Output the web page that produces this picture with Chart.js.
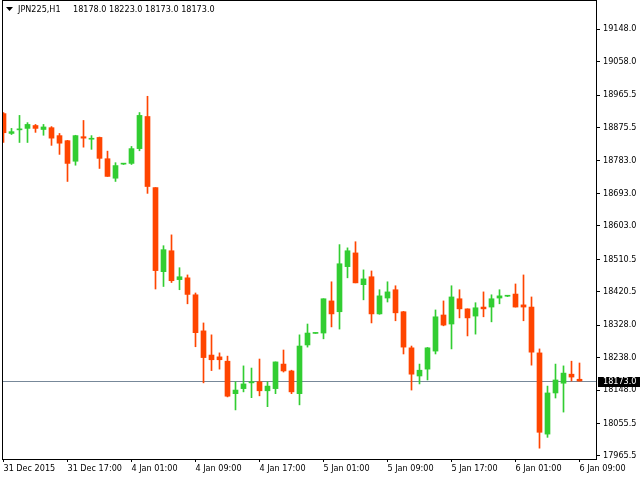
<!DOCTYPE html>
<html>
<head>
<meta charset="utf-8">
<script src="https://cdn.jsdelivr.net/npm/chart.js@4.4.1/dist/chart.umd.min.js"></script>
<style>
  html, body { margin: 0; padding: 0; background: #ffffff; }
  canvas { display: block; }
</style>
</head>
<body>
<canvas id="chart" width="640" height="480"></canvas>
<script>
const symbol = "JPN225,H1";
const bidPrice = 18173.0;

// one label every 8 hourly bars
const timeLabels = ["31 Dec 2015", "31 Dec 17:00", "4 Jan 01:00", "4 Jan 09:00", "4 Jan 17:00",
    "5 Jan 01:00", "5 Jan 09:00", "5 Jan 17:00", "6 Jan 01:00", "6 Jan 09:00"];

const priceTicks = [19148.0, 19058.0, 18965.5, 18875.5, 18783.0, 18693.0, 18603.0, 18510.5,
    18420.5, 18328.0, 18238.0, 18148.0, 18055.5, 17965.5];

const opens = [18914, 18859, 18869, 18873, 18881, 18870, 18875, 18853, 18839, 18782,
    18850, 18843, 18848, 18789, 18735, 18774, 18776, 18817, 18906, 18709,
    18476, 18534, 18454, 18459, 18412, 18312, 18245, 18240, 18228, 18138,
    18152, 18168, 18171, 18146, 18152, 18220, 18201, 18138, 18273, 18305,
    18306, 18395, 18365, 18490, 18528, 18440, 18462, 18359, 18403, 18426,
    18365, 18265, 18187, 18206, 18256, 18356, 18331, 18401, 18373, 18353,
    18378, 18378, 18403, 18408, 18414, 18384, 18378, 18251, 18026, 18140,
    18167, 18192, 18178];
const highs = [18917, 18873, 18909, 18889, 18884, 18884, 18878, 18859, 18840, 18854,
    18895, 18853, 18849, 18810, 18778, 18776, 18823, 18917, 18962, 18709,
    18548, 18578, 18487, 18467, 18417, 18334, 18301, 18251, 18242, 18171,
    18215, 18209, 18234, 18171, 18226, 18259, 18203, 18301, 18331, 18306,
    18401, 18448, 18551, 18542, 18559, 18481, 18478, 18426, 18448, 18437,
    18366, 18270, 18220, 18266, 18370, 18395, 18437, 18426, 18373, 18390,
    18420, 18412, 18426, 18409, 18442, 18467, 18406, 18262, 18159, 18220,
    18215, 18228, 18223];
const lows = [18834, 18856, 18834, 18834, 18862, 18854, 18826, 18801, 18726, 18771,
    18821, 18815, 18762, 18740, 18726, 18773, 18773, 18811, 18693, 18428,
    18435, 18446, 18426, 18387, 18268, 18168, 18202, 18206, 18129, 18093,
    18143, 18127, 18132, 18102, 18138, 18198, 18138, 18107, 18267, 18305,
    18290, 18323, 18317, 18459, 18445, 18398, 18334, 18358, 18392, 18340,
    18248, 18148, 18165, 18176, 18248, 18326, 18262, 18348, 18298, 18303,
    18351, 18337, 18387, 18407, 18378, 18340, 18217, 17987, 18017, 18126,
    18087, 18173, 18173];
const closes = [18861, 18864, 18870, 18884, 18873, 18877, 18846, 18832, 18776, 18853,
    18846, 18845, 18790, 18740, 18770, 18775, 18817, 18909, 18712, 18479,
    18537, 18451, 18462, 18413, 18307, 18238, 18232, 18232, 18131, 18148,
    18165, 18171, 18146, 18159, 18226, 18201, 18143, 18270, 18306, 18306,
    18401, 18359, 18498, 18534, 18445, 18456, 18359, 18409, 18420, 18362,
    18267, 18192, 18203, 18265, 18351, 18328, 18406, 18373, 18348, 18376,
    18373, 18401, 18409, 18409, 18378, 18378, 18253, 18031, 18140, 18176,
    18195, 18184, 18173];

const BULL = '#32cd32';
const BEAR = '#ff4500';
const FONT = "'DejaVu Sans Condensed', 'Liberation Sans', sans-serif";

Chart.defaults.font.family = FONT;
Chart.defaults.font.size = 9;
Chart.defaults.color = '#000000';

const candleColors = opens.map((o, i) => closes[i] >= o ? BULL : BEAR);
const wicks = opens.map((o, i) => ({ x: i, y: [lows[i], highs[i]] }));
const bodies = opens.map((o, i) => ({ x: i, y: [Math.min(o, closes[i]), Math.max(o, closes[i])] }));

// frame, bid line, bid price box and the symbol header, like the terminal draws them
const terminalLook = {
    id: 'terminalLook',
    beforeDatasetsDraw(chart)
    {
        const { ctx, chartArea, scales } = chart;
        const y = Math.round(scales.y.getPixelForValue(bidPrice)) + 0.5;
        ctx.save();
        ctx.strokeStyle = '#778899';
        ctx.lineWidth = 1;
        ctx.beginPath();
        ctx.moveTo(chartArea.left, y);
        ctx.lineTo(chartArea.right, y);
        ctx.stroke();
        ctx.restore();
    },
    afterDraw(chart)
    {
        const { ctx, chartArea, scales } = chart;
        ctx.save();
        ctx.strokeStyle = '#000000';
        ctx.lineWidth = 1;
        ctx.strokeRect(chartArea.left - 0.5, chartArea.top - 0.5, chartArea.right - chartArea.left + 1, chartArea.bottom - chartArea.top + 1);

        const y = Math.round(scales.y.getPixelForValue(bidPrice));
        ctx.fillStyle = '#000000';
        ctx.fillRect(chartArea.right + 2, y - 4, 640 - chartArea.right - 2, 10);
        ctx.font = `9px ${FONT}`;
        ctx.textBaseline = 'middle';
        ctx.fillStyle = '#ffffff';
        ctx.fillText(bidPrice.toFixed(1), chartArea.right + 7, y + 1);

        const last = opens.length - 1;
        ctx.fillStyle = '#000000';
        ctx.beginPath();
        ctx.moveTo(6, 7);
        ctx.lineTo(13, 7);
        ctx.lineTo(9.5, 11);
        ctx.closePath();
        ctx.fill();
        ctx.fillText(symbol, 18, 10);
        ctx.fillText([opens[last], highs[last], lows[last], closes[last]].map(v => v.toFixed(1)).join(' '), 73, 10);
        ctx.restore();
    }
};

new Chart(document.getElementById("chart"), {
    type: 'bar',
    data: {
        datasets: [{
            label: "Wick",
            data: wicks,
            backgroundColor: candleColors,
            grouped: false,
            barPercentage: 1,
            categoryPercentage: 1,
            maxBarThickness: 1,
            borderWidth: 0
        }, {
            label: "Body",
            data: bodies,
            backgroundColor: candleColors,
            grouped: false,
            barPercentage: 1,
            categoryPercentage: 1,
            maxBarThickness: 5,
            minBarLength: 1,
            borderWidth: 0
        }]
    },
    options: {
        responsive: false,
        animation: false,
        layout: { padding: { left: 3, top: 1, right: 0, bottom: 0 } },
        plugins: {
            legend: { display: false },
            tooltip: { enabled: false }
        },
        scales: {
            x: {
                type: 'linear',
                min: -0.0625,
                max: 74.0625,
                offset: false,
                afterBuildTicks: s => { s.ticks = timeLabels.map((_, i) => ({ value: i * 8 })); },
                afterFit: s => { s.height = 21; s.paddingLeft = 0; s.paddingRight = 0; },
                ticks: {
                    align: 'start',
                    padding: 1,
                    maxRotation: 0,
                    autoSkip: false,
                    callback: v => timeLabels[v / 8]
                },
                grid: { drawOnChartArea: false, tickLength: 3, color: '#000000', offset: false },
                border: { display: false }
            },
            y: {
                position: 'right',
                min: 17957,
                max: 19226,
                afterBuildTicks: s => { s.ticks = priceTicks.map(v => ({ value: v })); },
                afterFit: s => { s.width = 44; s.paddingTop = 0; s.paddingBottom = 0; },
                ticks: {
                    padding: 3,
                    autoSkip: false,
                    callback: v => v.toFixed(1)
                },
                grid: { drawOnChartArea: false, tickLength: 4, color: '#000000' },
                border: { display: false }
            }
        }
    },
    plugins: [terminalLook]
});
</script>
</body>
</html>
